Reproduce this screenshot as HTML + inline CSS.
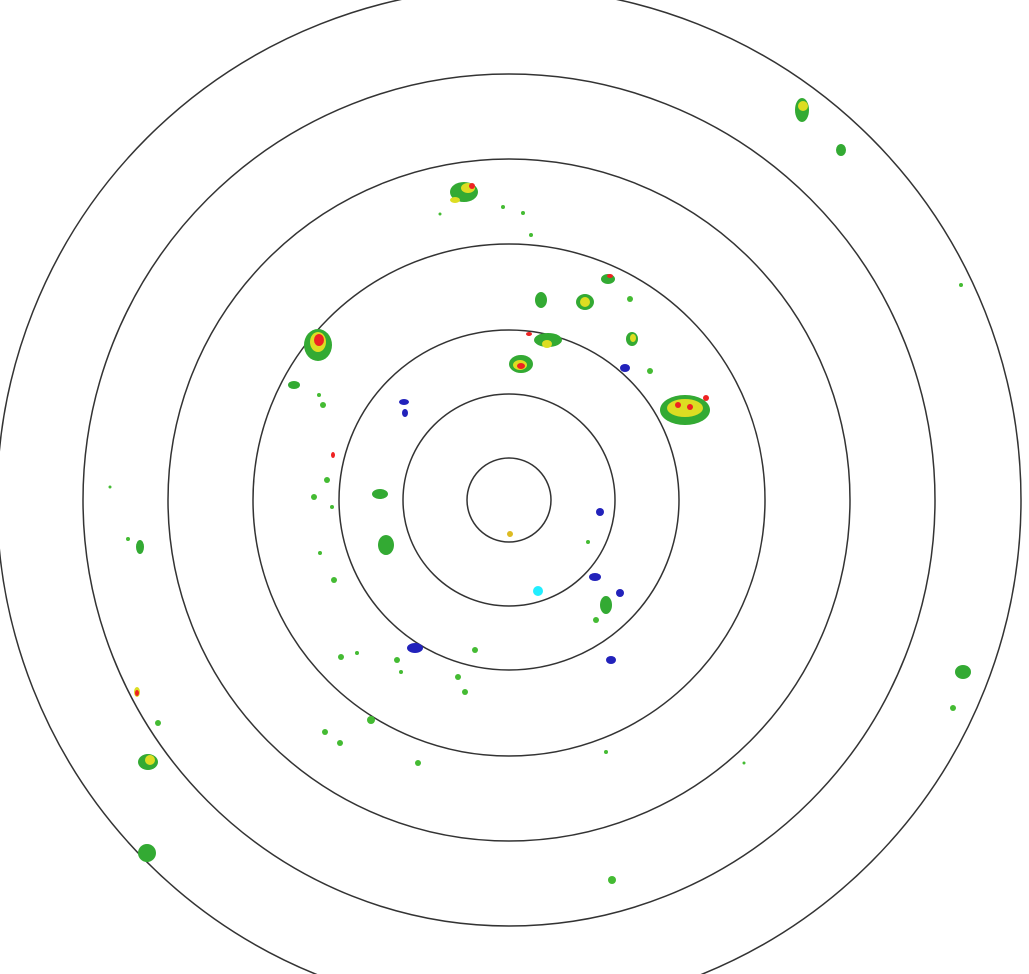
<!DOCTYPE html>
<html><head><meta charset="utf-8"><style>html,body{margin:0;padding:0;background:#fff;width:1029px;height:974px;overflow:hidden}</style></head>
<body>
<svg width="1029" height="974" viewBox="0 0 1029 974" xmlns="http://www.w3.org/2000/svg">
<g fill="none" stroke="#333" stroke-width="1.5">
<circle cx="509" cy="500" r="42"/>
<circle cx="509" cy="500" r="106"/>
<circle cx="509" cy="500" r="170"/>
<circle cx="509" cy="500" r="256"/>
<circle cx="509" cy="500" r="341"/>
<circle cx="509" cy="500" r="426"/>
<circle cx="509" cy="500" r="512"/>
</g>
<g>
<!-- large echoes: green base, yellow, red core -->
<g fill="#3a3"><ellipse cx="318" cy="345" rx="14" ry="16"/><ellipse cx="521" cy="364" rx="12" ry="9"/><ellipse cx="685" cy="410" rx="25" ry="15"/><ellipse cx="464" cy="192" rx="14" ry="10"/><ellipse cx="585" cy="302" rx="9" ry="8"/><ellipse cx="802" cy="110" rx="7" ry="12"/><ellipse cx="148" cy="762" rx="10" ry="8"/><ellipse cx="147" cy="853" rx="9" ry="9"/><ellipse cx="963" cy="672" rx="8" ry="7"/><ellipse cx="548" cy="340" rx="14" ry="7"/><ellipse cx="386" cy="545" rx="8" ry="10"/><ellipse cx="380" cy="494" rx="8" ry="5"/><ellipse cx="606" cy="605" rx="6" ry="9"/><ellipse cx="541" cy="300" rx="6" ry="8"/><ellipse cx="632" cy="339" rx="6" ry="7"/><ellipse cx="841" cy="150" rx="5" ry="6"/><ellipse cx="608" cy="279" rx="7" ry="5"/><ellipse cx="140" cy="547" rx="4" ry="7"/><ellipse cx="294" cy="385" rx="6" ry="4"/></g>
<g fill="#22b"><ellipse cx="415" cy="648" rx="8" ry="5"/><ellipse cx="595" cy="577" rx="6" ry="4"/><ellipse cx="404" cy="402" rx="5" ry="3"/><ellipse cx="625" cy="368" rx="5" ry="4"/><ellipse cx="611" cy="660" rx="5" ry="4"/><ellipse cx="600" cy="512" rx="4" ry="4"/><ellipse cx="620" cy="593" rx="4" ry="4"/><ellipse cx="405" cy="413" rx="3" ry="4"/></g>
<g fill="#dd2"><ellipse cx="318" cy="342" rx="8" ry="10"/><ellipse cx="520" cy="365" rx="7" ry="5"/><ellipse cx="685" cy="408" rx="18" ry="9"/><ellipse cx="468" cy="188" rx="7" ry="5"/><ellipse cx="585" cy="302" rx="5" ry="5"/><ellipse cx="803" cy="106" rx="5" ry="5"/><ellipse cx="150" cy="760" rx="5" ry="5"/><ellipse cx="547" cy="344" rx="5" ry="4"/><ellipse cx="633" cy="338" rx="3" ry="4"/><ellipse cx="137" cy="692" rx="3" ry="5"/><ellipse cx="455" cy="200" rx="5" ry="3"/></g>
<g fill="#e22"><ellipse cx="319" cy="340" rx="5" ry="6"/><ellipse cx="521" cy="366" rx="4" ry="3"/><ellipse cx="678" cy="405" rx="3" ry="3"/><ellipse cx="706" cy="398" rx="3" ry="3"/><ellipse cx="690" cy="407" rx="3" ry="3"/><ellipse cx="472" cy="186" rx="3" ry="3"/><ellipse cx="610" cy="276" rx="3" ry="2"/><ellipse cx="137" cy="693" rx="2" ry="3"/><ellipse cx="333" cy="455" rx="2" ry="3"/><ellipse cx="529" cy="334" rx="3" ry="2"/></g>
<!-- small green scatter -->
<g fill="#4b3">
<circle cx="327" cy="480" r="3"/><circle cx="314" cy="497" r="3"/><circle cx="320" cy="553" r="2"/><circle cx="334" cy="580" r="3"/><circle cx="341" cy="657" r="3"/><circle cx="357" cy="653" r="2"/><circle cx="401" cy="672" r="2"/><circle cx="397" cy="660" r="3"/><circle cx="458" cy="677" r="3"/><circle cx="475" cy="650" r="3"/><circle cx="465" cy="692" r="3"/><circle cx="371" cy="720" r="4"/><circle cx="325" cy="732" r="3"/><circle cx="340" cy="743" r="3"/><circle cx="418" cy="763" r="3"/><circle cx="158" cy="723" r="3"/><circle cx="128" cy="539" r="2"/><circle cx="588" cy="542" r="2"/><circle cx="503" cy="207" r="2"/><circle cx="531" cy="235" r="2"/><circle cx="650" cy="371" r="3"/><circle cx="953" cy="708" r="3"/><circle cx="612" cy="880" r="4"/><circle cx="606" cy="752" r="2"/><circle cx="744" cy="763" r="1.5"/><circle cx="961" cy="285" r="2"/><circle cx="110" cy="487" r="1.5"/><circle cx="323" cy="405" r="3"/><circle cx="319" cy="395" r="2"/><circle cx="596" cy="620" r="3"/><circle cx="630" cy="299" r="3"/><circle cx="523" cy="213" r="2"/><circle cx="440" cy="214" r="1.5"/><circle cx="332" cy="507" r="2"/>
</g>
<ellipse cx="538" cy="591" rx="5" ry="5" fill="#2ef"/>
<ellipse cx="510" cy="534" rx="3" ry="3" fill="#db2"/>
</g>
</svg>
</body></html>
